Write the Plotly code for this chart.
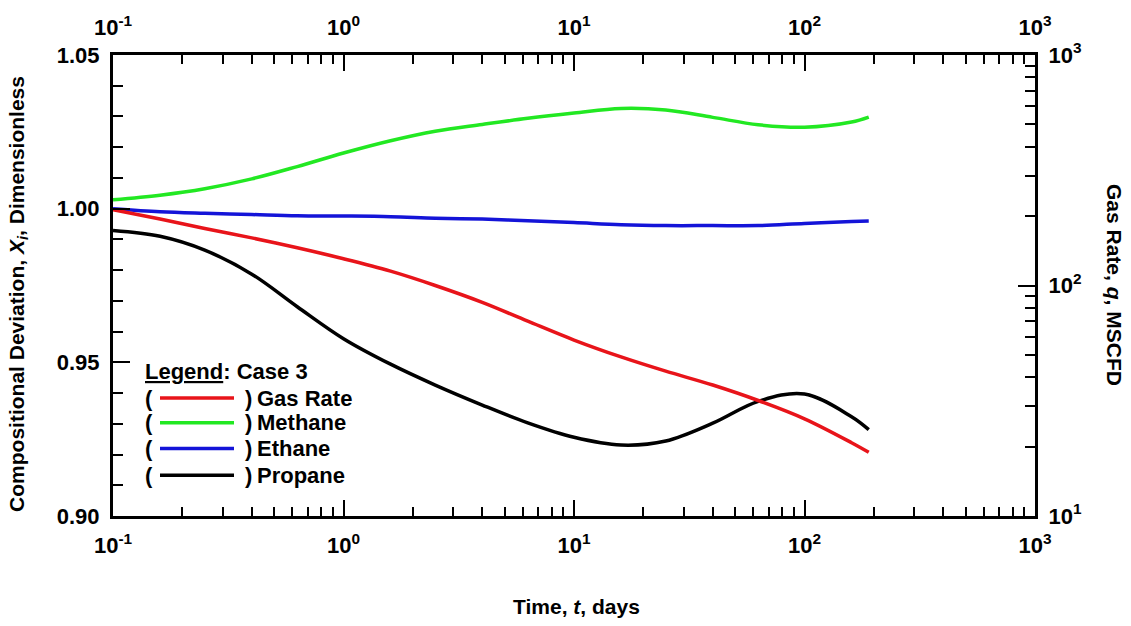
import plotly.graph_objects as go

# Time grid, days (roughly five points per decade)
time_days = [0.1, 0.16, 0.25, 0.4, 0.63, 1, 1.6, 2.5, 4, 6.3, 10, 16, 25, 40, 63, 100, 160, 190]

# Gas rate, MSCFD (right axis)
gas_rate = [213.3, 194.2, 176.7, 160.9, 145.7, 130.6, 115.4, 100.0, 84.5, 70.0, 58.0, 49.0,
            42.5, 37.0, 31.7, 26.4, 20.8, 18.9]

# Compositional deviation, dimensionless (left axis)
methane = [1.0029, 1.0044, 1.0065, 1.0097, 1.0137, 1.0181, 1.0221, 1.0252, 1.0274, 1.0294,
           1.0311, 1.0326, 1.0321, 1.0297, 1.0273, 1.0265, 1.0282, 1.0298]
ethane = [1.0000, 0.9990, 0.9985, 0.9981, 0.9977, 0.9976, 0.9974, 0.9969, 0.9966, 0.9961,
          0.9955, 0.9948, 0.9945, 0.9945, 0.9945, 0.9952, 0.9958, 0.9960]
propane = [0.9929, 0.9910, 0.9865, 0.9787, 0.9681, 0.9577, 0.9494, 0.9426, 0.9361, 0.9303,
           0.9256, 0.9231, 0.9244, 0.9302, 0.9373, 0.9397, 0.9323, 0.9281]

x_tick_vals = [0.1, 1, 10, 100, 1000]
x_tick_text = ["<b>10<sup>-1</sup></b>", "<b>10<sup>0</sup></b>", "<b>10<sup>1</sup></b>",
               "<b>10<sup>2</sup></b>", "<b>10<sup>3</sup></b>"]
y_tick_vals = [0.90, 0.95, 1.00, 1.05]
y_tick_text = ["<b>0.90</b>", "<b>0.95</b>", "<b>1.00</b>", "<b>1.05</b>"]
q_tick_vals = [10, 100, 1000]
q_tick_text = ["<b>10<sup>1</sup></b>", "<b>10<sup>2</sup></b>", "<b>10<sup>3</sup></b>"]

series = [
    ("Gas Rate", "#e8141a"),
    ("Methane", "#22e822"),
    ("Ethane", "#1414d8"),
    ("Propane", "#000000"),
]

FONT = "Liberation Sans, Arial, sans-serif"
W, H = 1131, 626
L, R, T, B = 113, 1035, 51, 516

x_minor = [m * 10 ** e for e in range(-1, 3) for m in range(2, 10)]
q_minor = [m * 10 ** e for e in range(1, 3) for m in range(2, 10)]

fig = go.Figure()


def curve(y, color, xa="x", ya="y"):
    return go.Scatter(x=time_days, y=y, mode="lines",
                      line=dict(color=color, width=3.5, shape="spline", smoothing=1.0),
                      xaxis=xa, yaxis=ya, showlegend=False, hoverinfo="skip")


fig.add_trace(curve(methane, series[1][1]))
fig.add_trace(curve(ethane, series[2][1]))
fig.add_trace(curve(propane, series[3][1]))
fig.add_trace(curve(gas_rate, series[0][1], "x2", "y2"))

tick_font = dict(family=FONT, size=22, color="black")
x_common = dict(type="log", range=[-1, 3], tickvals=x_tick_vals, ticktext=x_tick_text,
                ticks="inside", ticklen=16, tickwidth=2, tickcolor="black",
                minor=dict(ticks="inside", ticklen=9, tickwidth=2, tickcolor="black", tickvals=x_minor),
                showline=True, linewidth=3, linecolor="black", showgrid=False, zeroline=False,
                tickfont=tick_font, ticklabelstandoff=8)

fig.update_layout(
    width=W, height=H,
    margin=dict(l=L, r=W - R, t=T, b=H - B, pad=0),
    paper_bgcolor="white", plot_bgcolor="white",
    showlegend=False,
    xaxis=dict(**x_common, side="bottom", anchor="y"),
    xaxis2=dict(**x_common, side="top", overlaying="x", anchor="y"),
    yaxis=dict(range=[0.90, 1.05], tickvals=y_tick_vals, ticktext=y_tick_text,
               ticks="inside", ticklen=17, tickwidth=2, tickcolor="black",
               minor=dict(ticks="inside", ticklen=10, tickwidth=2, tickcolor="black", dtick=0.01),
               showline=True, linewidth=3, linecolor="black", showgrid=False, zeroline=False,
               tickfont=tick_font, side="left", anchor="x", ticklabelstandoff=6),
    yaxis2=dict(type="log", range=[1, 3], tickvals=q_tick_vals, ticktext=q_tick_text,
                ticks="inside", ticklen=17, tickwidth=2, tickcolor="black",
                minor=dict(ticks="inside", ticklen=10, tickwidth=2, tickcolor="black", tickvals=q_minor),
                showline=True, linewidth=3, linecolor="black", showgrid=False, zeroline=False,
                tickfont=tick_font, side="right", overlaying="y", anchor="x2", ticklabelstandoff=6),
)


def fx(p):
    return (p - L) / (R - L)


def fy(p):
    return (B - p) / (B - T)


title_font = dict(family=FONT, size=21, color="black")
legend_font = dict(family=FONT, size=22, color="black")
annotations = [
    dict(text="<b>Compositional Deviation, <i>X<sub>i</sub></i>, Dimensionless</b>", textangle=-90,
         x=fx(18), y=fy(292), xanchor="center", yanchor="middle", font=title_font),
    dict(text="<b>Gas Rate, <i>q</i>, MSCFD</b>", textangle=90,
         x=fx(1115), y=fy(283), xanchor="center", yanchor="middle", font=title_font),
    dict(text="<b>Time, <i>t</i>, days</b>", x=fx(576), y=fy(607), xanchor="center", yanchor="middle",
         font=title_font),
    dict(text="<b><u>Legend</u>: Case 3</b>", x=fx(143), y=fy(370), xanchor="left", yanchor="middle",
         font=legend_font),
]

row_y = [397, 422, 448, 475]
for (name, color), yy in zip(series, row_y):
    annotations.append(dict(text="<b>(</b>", x=fx(143), y=fy(yy), xanchor="left", yanchor="middle",
                            font=legend_font))
    annotations.append(dict(text="<b>)</b>", x=fx(243), y=fy(yy), xanchor="left", yanchor="middle",
                            font=legend_font))
    annotations.append(dict(text=f"<b>{name}</b>", x=fx(255), y=fy(yy), xanchor="left", yanchor="middle",
                            font=legend_font))
    fig.add_shape(type="line", xref="paper", yref="paper", x0=fx(160), x1=fx(234), y0=fy(yy), y1=fy(yy),
                  line=dict(color=color, width=3.5))

for a in annotations:
    a.update(xref="paper", yref="paper", showarrow=False)
fig.update_layout(annotations=annotations)

fig.write_html("out.html")
